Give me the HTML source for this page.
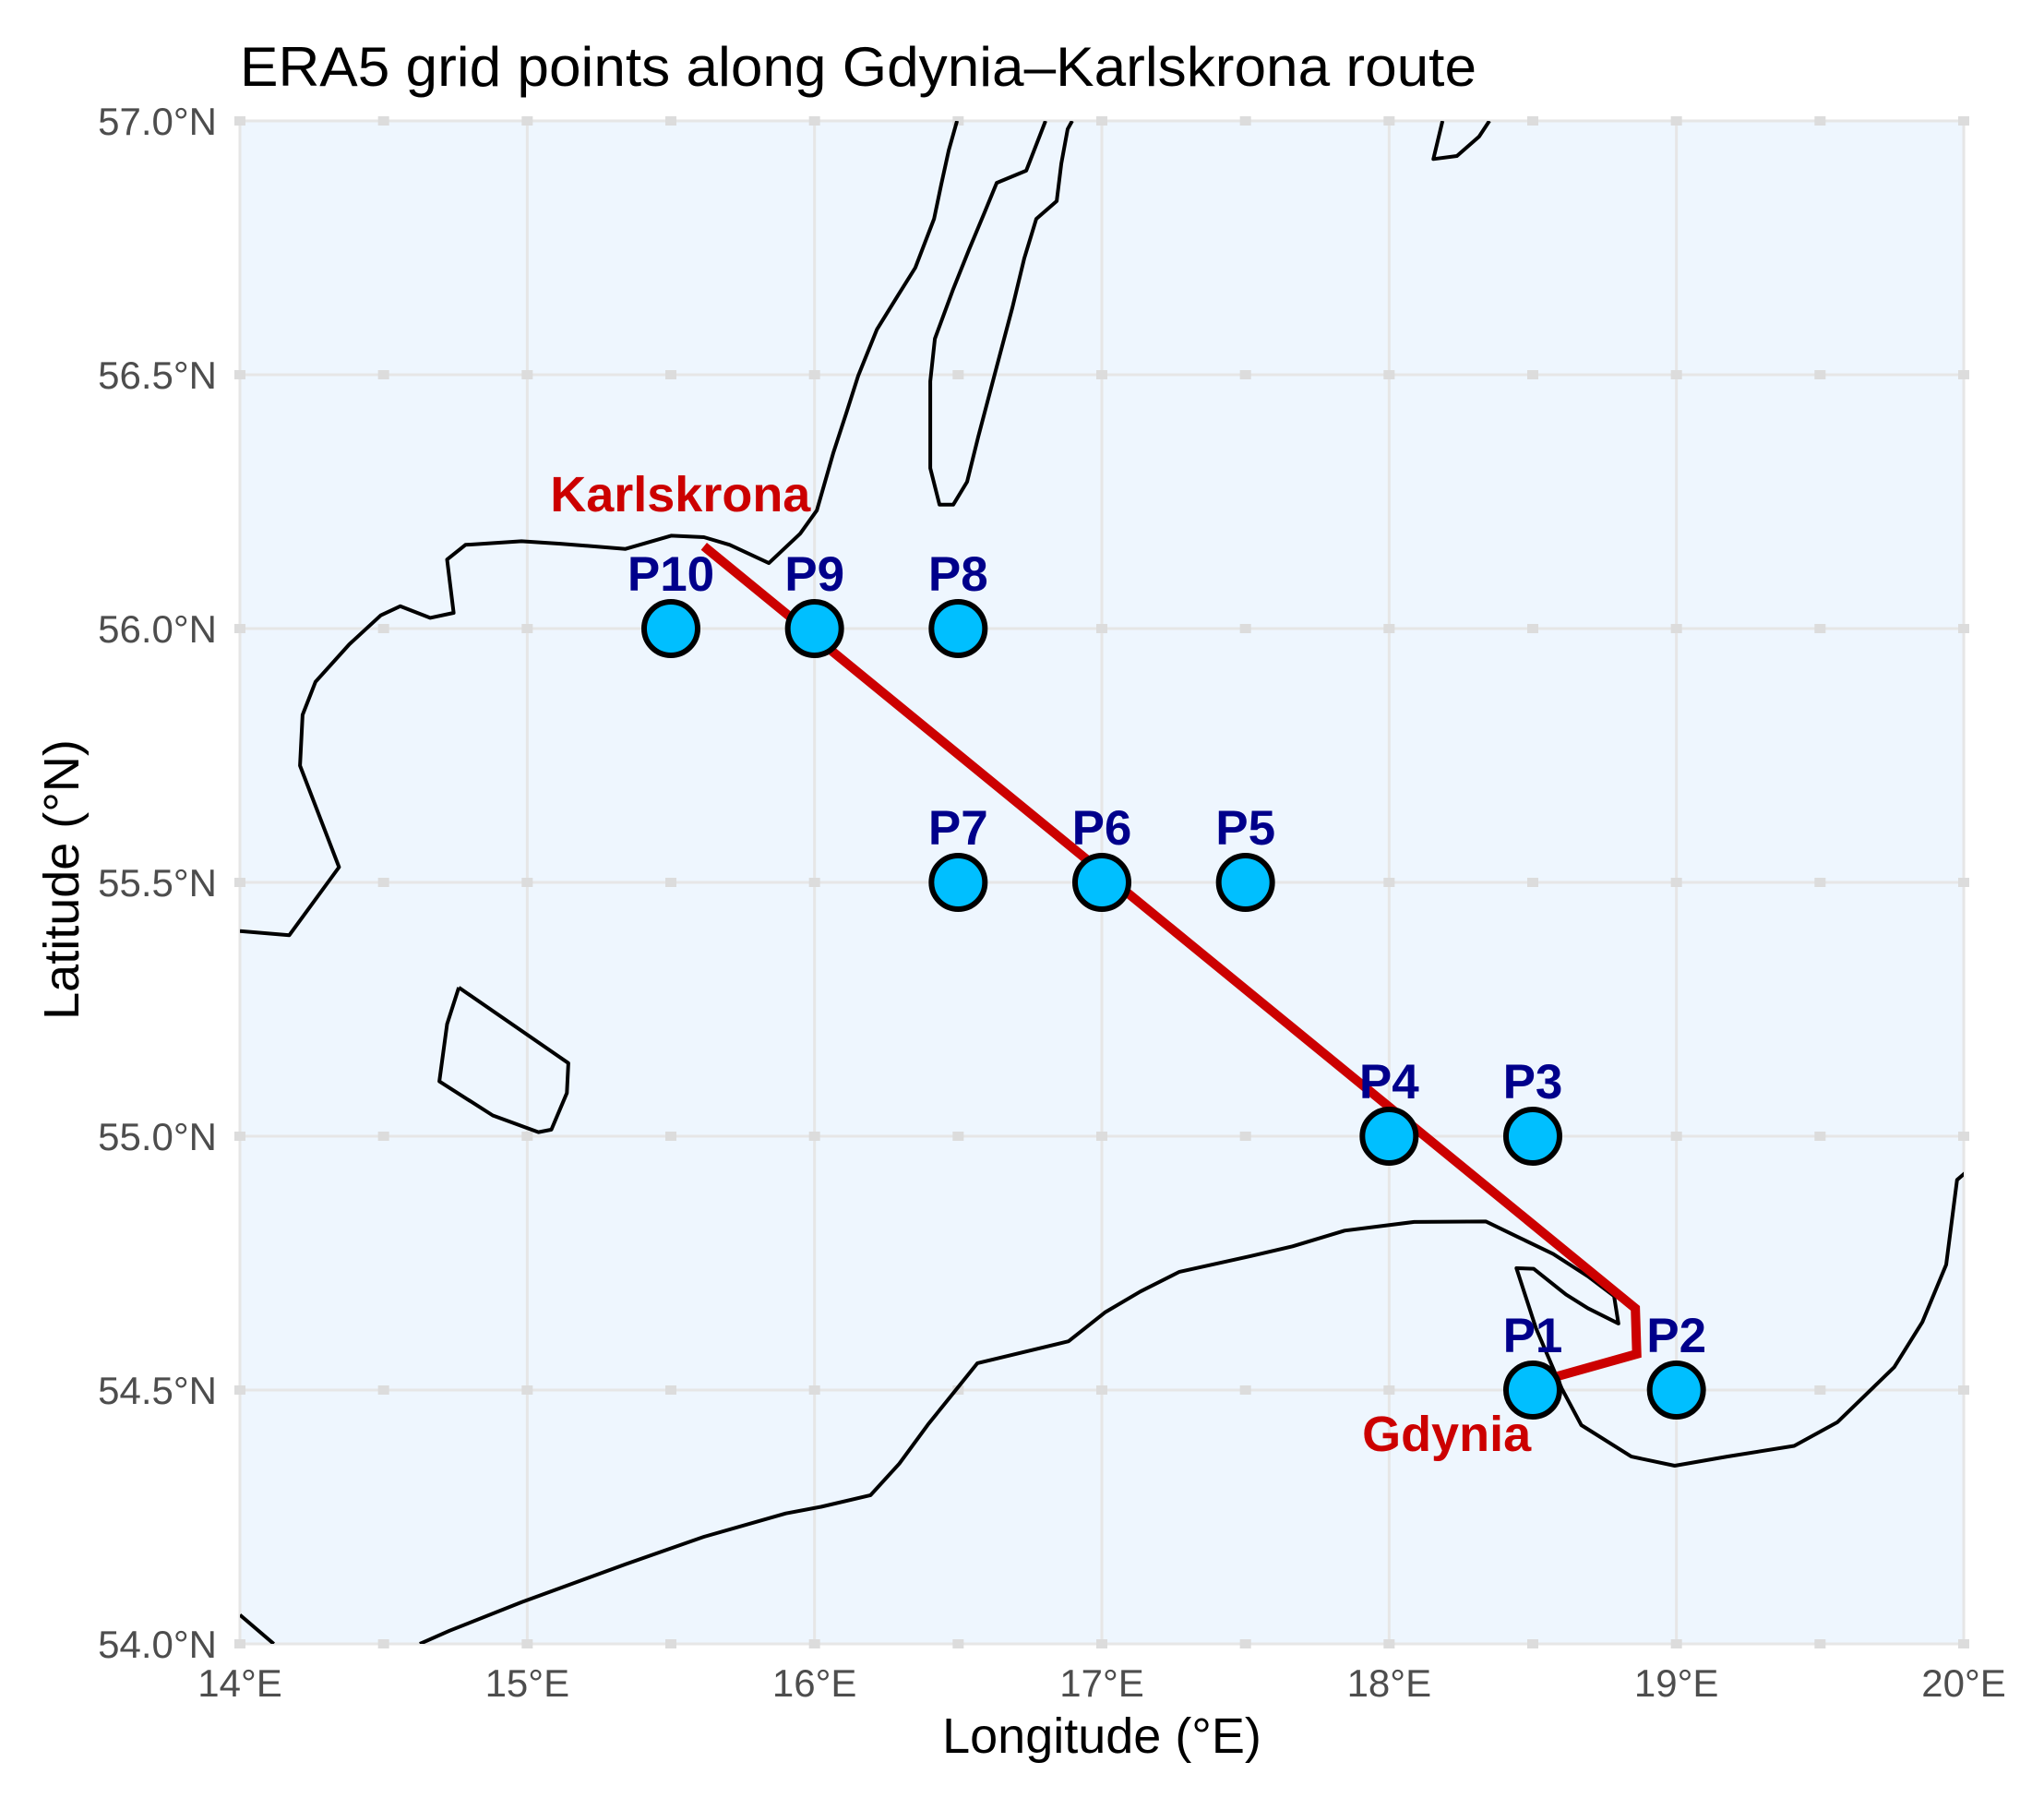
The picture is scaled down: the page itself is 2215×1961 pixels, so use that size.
<!DOCTYPE html>
<html><head><meta charset="utf-8"><style>
html,body{margin:0;padding:0;background:#fff}
svg{display:block;font-family:"Liberation Sans",Arial,sans-serif}
</style></head><body>
<svg id="chart" width="2215" height="1961" viewBox="0 0 2215 1961" xmlns="http://www.w3.org/2000/svg">
<defs><clipPath id="pclip"><rect x="260" y="131" width="1868" height="1650"/></clipPath></defs>
<rect x="260" y="131" width="1868" height="1650" fill="#eef6fe"/>
<g id="grid"></g>
<g id="coast" clip-path="url(#pclip)"></g>
<g id="route"></g>
<g id="pts"></g>
<g id="axes"></g>
<text x="260" y="93" font-size="60" textLength="1340" lengthAdjust="spacingAndGlyphs" fill="#000">ERA5 grid points along Gdynia–Karlskrona route</text>
<text x="1194" y="1899" font-size="54" text-anchor="middle" fill="#000">Longitude (°E)</text>
<text transform="translate(85,953) rotate(-90)" font-size="54" text-anchor="middle" fill="#000">Latitude (°N)</text>
</svg>
<script>
const lonTicks = [14,15,16,17,18,19,20];
const lonTickLabels = ["14°E","15°E","16°E","17°E","18°E","19°E","20°E"];
const latTicks = [54,54.5,55,55.5,56,56.5,57];
const latTickLabels = ["54.0°N","54.5°N","55.0°N","55.5°N","56.0°N","56.5°N","57.0°N"];
const pointNames = ["P1","P2","P3","P4","P5","P6","P7","P8","P9","P10"];
const pointLon = [18.5,19,18.5,18,17.5,17,16.5,16.5,16,15.5];
const pointLat = [54.5,54.5,55,55,55.5,55.5,55.5,56,56,56];
const routeLon = [15.615,18.857,18.862,18.585];
const routeLat = [56.162,54.661,54.571,54.527];
const cities = ["Karlskrona","Gdynia"];
const cityLon = [15.533,18.20];
const cityLat = [56.231,54.38];
const swedenLon = [14.0,14.172,14.345,14.209,14.218,14.263,14.381,14.490,14.558,14.662,14.744,14.721,14.785,14.980,15.116,15.342,15.501,15.615,15.705,15.841,15.950,16.008,16.066,16.111,16.152,16.217,16.290,16.351,16.416,16.441,16.467,16.496];
const swedenLat = [55.404,55.396,55.530,55.730,55.830,55.895,55.969,56.026,56.044,56.021,56.031,56.136,56.165,56.172,56.167,56.157,56.183,56.180,56.165,56.129,56.187,56.233,56.347,56.425,56.498,56.589,56.656,56.711,56.807,56.875,56.942,57.0];
const olandLon = [16.804,16.737,16.634,16.592,16.538,16.483,16.419,16.403,16.403,16.435,16.483,16.531,16.570,16.634,16.689,16.730,16.772,16.843,16.859,16.881,16.897];
const olandLat = [57.0,56.902,56.878,56.820,56.747,56.669,56.571,56.487,56.316,56.244,56.244,56.289,56.378,56.516,56.633,56.729,56.807,56.842,56.916,56.984,57.0];
const gotlandLon = [18.186,18.154,18.236,18.313,18.349];
const gotlandLat = [57.0,56.925,56.931,56.969,57.0];
const bornholmLon = [14.762,15.143,15.138,15.084,15.039,14.880,14.694,14.721,14.762];
const bornholmLat = [55.293,55.144,55.085,55.013,55.008,55.041,55.108,55.221,55.293];
const polandLon = [14.626,14.730,14.980,15.342,15.615,15.900,16.023,16.195,16.295,16.395,16.567,16.884,17.011,17.134,17.270,17.519,17.664,17.845,18.087,18.337,18.450,18.571,18.692,18.783,18.798,18.692,18.616,18.503,18.443,18.511,18.601,18.669,18.843,18.994,19.176,19.410,19.561,19.758,19.856,19.939,19.977,20.01];
const polandLat = [54.0,54.026,54.082,54.157,54.211,54.257,54.270,54.293,54.355,54.432,54.553,54.596,54.653,54.694,54.733,54.764,54.783,54.814,54.831,54.832,54.801,54.768,54.724,54.685,54.631,54.661,54.688,54.739,54.740,54.622,54.503,54.431,54.369,54.351,54.369,54.390,54.437,54.545,54.634,54.747,54.914,54.93];
const cornerLon = [14.0,14.118];
const cornerLat = [54.057,54.0];

const NS="http://www.w3.org/2000/svg";
const X0=260,X1=2128,Y0=131,Y1=1781;
function sx(lon){return X0+(lon-14)/6*(X1-X0);}
function sy(lat){return Y1-(lat-54)/3*(Y1-Y0);}
function mk(tag,attrs,parent){const e=document.createElementNS(NS,tag);for(const k in attrs)e.setAttribute(k,attrs[k]);parent.appendChild(e);return e;}

const grid=document.getElementById('grid');
lonTicks.forEach(v=>{
  const l=mk('line',{x1:sx(v),x2:sx(v),y1:Y0,y2:Y1,stroke:'#e6e6e6','stroke-width':3},grid);
  
  
});
latTicks.forEach(v=>{
  const l=mk('line',{x1:X0,x2:X1,y1:sy(v),y2:sy(v),stroke:'#e6e6e6','stroke-width':3},grid);
  
  
  for(let k=0;k<=12;k++){
    const lon=14+k*0.5;
    const r=mk('rect',{x:sx(lon)-6,y:sy(v)-5,width:12,height:10,fill:'#dcdcdc'},grid);
    
    
  }
});

const coast=document.getElementById('coast');
function poly(lons,lats,name){
  const pts=lons.map((v,i)=>sx(v).toFixed(1)+','+sy(lats[i]).toFixed(1)).join(' ');
  const p=mk('polyline',{points:pts,fill:'none',stroke:'#000','stroke-width':4,'stroke-linejoin':'round'},coast);
  
  
}
poly(swedenLon,swedenLat,'sweden-coastline');
poly(olandLon,olandLat,'oland-coastline');
poly(gotlandLon,gotlandLat,'gotland-coastline');
poly(bornholmLon,bornholmLat,'bornholm-coastline');
poly(polandLon,polandLat,'poland-coastline');
poly(cornerLon,cornerLat,'germany-coastline');

const route=document.getElementById('route');
const rp=mk('polyline',{points:routeLon.map((v,i)=>sx(v)+','+sy(routeLat[i])).join(' '),fill:'none',stroke:'#cc0000','stroke-width':10,'stroke-linejoin':'miter'},route);



const pts=document.getElementById('pts');
pointNames.forEach((n,i)=>{
  const c=mk('circle',{cx:sx(pointLon[i]),cy:sy(pointLat[i]),r:29,fill:'#00bfff',stroke:'#000','stroke-width':6},pts);
  
  
  const t=mk('text',{x:sx(pointLon[i]),y:sy(pointLat[i])-41,'font-size':53,'font-weight':'bold','text-anchor':'middle',fill:'#00008b'},pts);
  t.textContent=n;
  
  
});
cities.forEach((n,i)=>{
  const t=mk('text',{x:sx(cityLon[i]),y:sy(cityLat[i]),'font-size':54,'font-weight':'bold','text-anchor':'middle',fill:'#cc0000'},pts);
  t.textContent=n;
  
  
});

const axes=document.getElementById('axes');
lonTicks.forEach((v,i)=>{
  const t=mk('text',{x:sx(v),y:1838,'font-size':42,'text-anchor':'middle',fill:'#4d4d4d'},axes);
  t.textContent=lonTickLabels[i];
  
  
});
latTicks.forEach((v,i)=>{
  const t=mk('text',{x:235,y:sy(v)+15,'font-size':42,'text-anchor':'end',fill:'#4d4d4d'},axes);
  t.textContent=latTickLabels[i];
  
  
});
</script>
</body></html>
